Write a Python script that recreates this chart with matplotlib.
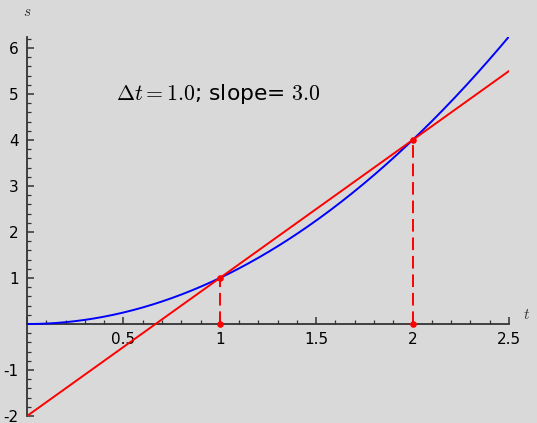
import matplotlib
matplotlib.use("Agg")
import matplotlib.pyplot as plt
import numpy as np
from matplotlib.ticker import MultipleLocator, FuncFormatter

plt.rcParams["mathtext.fontset"] = "cm"

# curve s = t^2 and the secant through the two sample points
t0, t1 = 1.0, 2.0
dt = t1 - t0
t_curve = np.linspace(0.0, 2.5, 300)
s_curve = t_curve ** 2
s0, s1 = t0 ** 2, t1 ** 2
slope = (s1 - s0) / dt
t_line = np.array([0.0, 2.5])
s_line = s0 + slope * (t_line - t0)

bg = "#d9d9d9"
axis_color = "#333333"

fig = plt.figure(figsize=(5.37, 4.23), dpi=100, facecolor=bg)
ax = fig.add_axes([0.0503, 0.0165, 0.8976, 0.8972], facecolor=bg)

ax.plot(t_curve, s_curve, color="blue", lw=1.4, zorder=3)
ax.plot(t_line, s_line, color="red", lw=1.4, zorder=4)
for tt, ss in [(t0, s0), (t1, s1)]:
    ax.plot([tt, tt], [0, ss], color="red", lw=1.4, ls=(0, (6.5, 3)), zorder=4)
ax.scatter([t0, t0, t1, t1], [0, s0, 0, s1], color="red", s=14, zorder=5)

ax.set_xlim(0.0, 2.5)
ax.set_ylim(-2.0, 6.25)

for side in ["top", "right"]:
    ax.spines[side].set_visible(False)
ax.spines["left"].set_position(("data", 0))
ax.spines["bottom"].set_position(("data", 0))
for side in ["left", "bottom"]:
    ax.spines[side].set_color(axis_color)
    ax.spines[side].set_linewidth(1.3)

ax.xaxis.set_major_locator(MultipleLocator(0.5))
ax.xaxis.set_minor_locator(MultipleLocator(0.1))
ax.yaxis.set_major_locator(MultipleLocator(1))
ax.yaxis.set_minor_locator(MultipleLocator(0.2))


def fmt(v, pos):
    if abs(v) < 1e-9:
        return ""
    return f"{v:g}"


ax.xaxis.set_major_formatter(FuncFormatter(fmt))
ax.yaxis.set_major_formatter(FuncFormatter(fmt))
ax.tick_params(which="both", direction="in", color=axis_color, labelsize=11,
               labelcolor="black")
ax.tick_params(which="major", length=5, width=1.1, pad=6)
ax.tick_params(which="minor", length=3, width=0.9)

ax.text(2.59, 0.05, "$t$", fontsize=11, ha="center", va="bottom",
        color="#333333", clip_on=False)
ax.text(0.0, 6.62, "$s$", fontsize=11, ha="center", va="bottom",
        color="#333333", clip_on=False)

ax.text(0.46, 5.0, rf"$\Delta t = {dt:.1f}$; slope= ${slope:.1f}$",
        fontsize=15.7, ha="left", va="center", color="black")

fig.savefig("out.png", dpi=100, facecolor=bg)
